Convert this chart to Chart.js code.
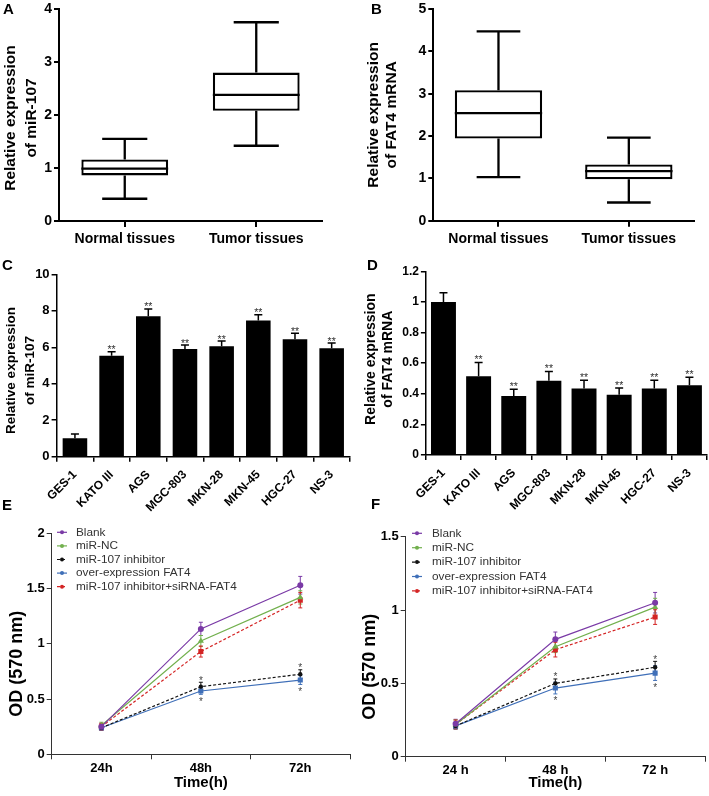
<!DOCTYPE html>
<html><head><meta charset="utf-8">
<script src="https://cdn.jsdelivr.net/npm/chart.js@4.4.1/dist/chart.umd.min.js"></script>
<style>
html,body{margin:0;padding:0;background:#fff;}
#wrap{position:relative;width:709px;height:796px;overflow:hidden;background:#fff;}
canvas{position:absolute;}
.lab{position:absolute;font:bold 15px Arial,"Liberation Sans",sans-serif;color:#000;line-height:1;}
</style></head><body>
<div id="wrap">
<canvas id="cA" width="354" height="262" style="left:0;top:0"></canvas>
<canvas id="cB" width="355" height="262" style="left:354px;top:0"></canvas>
<canvas id="cC" width="354" height="250" style="left:0;top:262px"></canvas>
<canvas id="cD" width="355" height="250" style="left:354px;top:262px"></canvas>
<canvas id="cE" width="354" height="284" style="left:0;top:512px"></canvas>
<canvas id="cF" width="355" height="284" style="left:354px;top:512px"></canvas>
<div class="lab" style="left:3px;top:1px">A</div>
<div class="lab" style="left:371px;top:1px">B</div>
<div class="lab" style="left:2px;top:257px">C</div>
<div class="lab" style="left:367px;top:257px">D</div>
<div class="lab" style="left:2px;top:497px">E</div>
<div class="lab" style="left:371px;top:496px">F</div>
</div>
<script>
// ---------- data ----------
const boxCategories = ['Normal tissues', 'Tumor tissues'];
const miR107Min = [0.42, 1.42];
const miR107Q1 = [0.86, 2.08];
const miR107Median = [0.99, 2.38];
const miR107Q3 = [1.16, 2.80];
const miR107Max = [1.55, 3.75];
const fat4Min = [1.03, 0.43];
const fat4Q1 = [1.94, 0.98];
const fat4Median = [2.54, 1.17];
const fat4Q3 = [3.08, 1.33];
const fat4Max = [4.47, 1.96];

const cellLines = ['GES-1', 'KATO III', 'AGS', 'MGC-803', 'MKN-28', 'MKN-45', 'HGC-27', 'NS-3'];
const cellMiR107 = [1.01, 5.53, 7.70, 5.90, 6.05, 7.47, 6.44, 5.94];
const cellMiR107Err = [0.23, 0.22, 0.40, 0.22, 0.29, 0.31, 0.33, 0.29];
const cellMiR107Sig = ['', '**', '**', '**', '**', '**', '**', '**'];
const cellFat4 = [1.00, 0.515, 0.385, 0.485, 0.435, 0.393, 0.435, 0.455];
const cellFat4Err = [0.06, 0.09, 0.044, 0.061, 0.054, 0.044, 0.054, 0.053];
const cellFat4Sig = ['', '**', '**', '**', '**', '**', '**', '**'];

const timeLabelsE = ['24h', '48h', '72h'];
const timeLabelsF = ['24 h', '48 h', '72 h'];
const groupNames = ['Blank', 'miR-NC', 'miR-107 inhibitor', 'over-expression FAT4', 'miR-107 inhibitor+siRNA-FAT4'];
const odE_blank = [0.25, 1.135, 1.53];
const odE_nc = [0.26, 1.025, 1.42];
const odE_inhib = [0.24, 0.612, 0.725];
const odE_fat4 = [0.24, 0.573, 0.672];
const odE_inhibSi = [0.25, 0.93, 1.395];
const errE_blank = [0.03, 0.06, 0.08];
const errE_nc = [0.03, 0.05, 0.06];
const errE_inhib = [0.02, 0.04, 0.04];
const errE_fat4 = [0.02, 0.03, 0.04];
const errE_inhibSi = [0.03, 0.05, 0.07];
const starsE = ['', '*', '*'];

const odF_blank = [0.225, 0.80, 1.05];
const odF_nc = [0.22, 0.75, 1.02];
const odF_inhib = [0.21, 0.50, 0.61];
const odF_fat4 = [0.21, 0.468, 0.57];
const odF_inhibSi = [0.22, 0.73, 0.952];
const errF_blank = [0.03, 0.05, 0.07];
const errF_nc = [0.03, 0.04, 0.06];
const errF_inhib = [0.02, 0.03, 0.04];
const errF_fat4 = [0.02, 0.04, 0.05];
const errF_inhibSi = [0.03, 0.05, 0.05];
const starsF = ['', '*', '*'];

const ticksA = ['0', '1', '2', '3', '4'];
const ticksB = ['0', '1', '2', '3', '4', '5'];
const ticksC = ['0', '2', '4', '6', '8', '10'];
const ticksD = ['0', '0.2', '0.4', '0.6', '0.8', '1', '1.2'];
const ticksE = ['0', '0.5', '1', '1.5', '2'];
const ticksF = ['0', '0.5', '1', '1.5'];

const titleA = ['Relative expression', 'of miR-107'];
const titleB = ['Relative expression', 'of FAT4 mRNA'];
const titleC = ['Relative expression', 'of miR-107'];
const titleD = ['Relative expression', 'of FAT4 mRNA'];
const titleE = ['OD (570 nm)'];
const titleF = ['OD (570 nm)'];
const timeTitle = 'Time(h)';

// ---------- styles ----------
const FONT = 'Arial, "Liberation Sans", Helvetica, sans-serif';
Chart.defaults.font.family = FONT;
Chart.defaults.color = '#000';
const lineColors = ['#7a3aa6', '#72b04e', '#111111', '#3f6fb8', '#d42424'];
const lineStyles = ['circle', 'triangle', 'circle', 'rect', 'rect'];
const lineRadii = [3, 3.6, 2.2, 3.6, 3.6];
const lineDashes = [[], [], [3, 2], [], [3, 2]];

// ---------- plugins ----------
const sideTitle = {
  id: 'sideTitle',
  afterDraw(chart, args, o) {
    if (!o.lines) return;
    const ctx = chart.ctx, ca = chart.chartArea;
    ctx.save();
    ctx.font = 'bold ' + o.size + 'px ' + FONT;
    ctx.fillStyle = '#000'; ctx.textAlign = 'center'; ctx.textBaseline = 'middle';
    const cy = (ca.top + ca.bottom) / 2 + (o.dy || 0);
    o.lines.forEach((t, i) => {
      ctx.save(); ctx.translate(o.x + i * o.lh, cy); ctx.rotate(-Math.PI / 2);
      ctx.fillText(t, 0, 0); ctx.restore();
    });
    ctx.restore();
  }
};

const boxWhisker = {
  id: 'boxWhisker',
  afterDatasetsDraw(chart, args, o) {
    if (!o.min) return;
    const ctx = chart.ctx, y = chart.scales.y;
    const meta = chart.getDatasetMeta(0);
    ctx.save();
    ctx.strokeStyle = '#000'; ctx.lineWidth = o.lineWidth; ctx.lineCap = 'butt';
    meta.data.forEach((bar, i) => {
      const x = bar.x, w = bar.width, cw = w * o.cap;
      const pMin = y.getPixelForValue(o.min[i]);
      const pMax = y.getPixelForValue(o.max[i]);
      const pMed = y.getPixelForValue(o.median[i]);
      const pQ1 = y.getPixelForValue(o.q1[i]);
      const pQ3 = y.getPixelForValue(o.q3[i]);
      ctx.beginPath();
      ctx.moveTo(x - w / 2, pMed); ctx.lineTo(x + w / 2, pMed);
      ctx.moveTo(x, pQ3); ctx.lineTo(x, pMax);
      ctx.moveTo(x - cw / 2, pMax); ctx.lineTo(x + cw / 2, pMax);
      ctx.moveTo(x, pQ1); ctx.lineTo(x, pMin);
      ctx.moveTo(x - cw / 2, pMin); ctx.lineTo(x + cw / 2, pMin);
      ctx.stroke();
    });
    ctx.restore();
  }
};

const barErr = {
  id: 'barErr',
  afterDatasetsDraw(chart, args, o) {
    if (!o.err) return;
    const ctx = chart.ctx, y = chart.scales.y;
    const meta = chart.getDatasetMeta(0);
    const data = chart.data.datasets[0].data;
    ctx.save();
    meta.data.forEach((bar, i) => {
      const top = y.getPixelForValue(data[i] + o.err[i]);
      ctx.strokeStyle = '#000'; ctx.lineWidth = o.lineWidth;
      ctx.beginPath();
      ctx.moveTo(bar.x, bar.y); ctx.lineTo(bar.x, top);
      ctx.moveTo(bar.x - o.cap / 2, top); ctx.lineTo(bar.x + o.cap / 2, top);
      ctx.stroke();
      if (o.sig[i]) {
        ctx.fillStyle = '#333'; ctx.font = o.sigSize + 'px ' + FONT;
        ctx.textAlign = 'center'; ctx.textBaseline = 'alphabetic';
        ctx.fillText(o.sig[i], bar.x, top - o.sigGap + 0.575 * o.sigSize);
      }
    });
    ctx.restore();
  }
};

function drawMarker(ctx, style, r, x, y) {
  ctx.beginPath();
  if (style === 'rect') {
    const s = r * Math.SQRT1_2;
    ctx.rect(x - s, y - s, 2 * s, 2 * s);
  } else if (style === 'triangle') {
    ctx.moveTo(x, y - r);
    ctx.lineTo(x + r * 0.866, y + r * 0.5);
    ctx.lineTo(x - r * 0.866, y + r * 0.5);
    ctx.closePath();
  } else {
    ctx.arc(x, y, r, 0, Math.PI * 2);
  }
  ctx.fill();
}

const lineErr = {
  id: 'lineErr',
  beforeDatasetsDraw(chart, args, o) {
    if (!o.errors) return;
    const ctx = chart.ctx, y = chart.scales.y;
    ctx.save();
    chart.data.datasets.forEach((ds, di) => {
      const meta = chart.getDatasetMeta(di);
      ctx.strokeStyle = ds.borderColor; ctx.lineWidth = 1;
      meta.data.forEach((pt, i) => {
        const e = o.errors[di][i];
        const t = y.getPixelForValue(ds.data[i] + e), b = y.getPixelForValue(ds.data[i] - e);
        ctx.beginPath();
        ctx.moveTo(pt.x, t); ctx.lineTo(pt.x, b);
        ctx.moveTo(pt.x - 2, t); ctx.lineTo(pt.x + 2, t);
        ctx.moveTo(pt.x - 2, b); ctx.lineTo(pt.x + 2, b);
        ctx.stroke();
      });
    });
    ctx.restore();
  },
  afterDatasetsDraw(chart, args, o) {
    if (!o.stars) return;
    const ctx = chart.ctx, y = chart.scales.y;
    ctx.save();
    ctx.fillStyle = '#444'; ctx.font = o.starSize + 'px ' + FONT;
    ctx.textAlign = 'center'; ctx.textBaseline = 'alphabetic';
    const up = chart.data.datasets[o.aboveIdx], dn = chart.data.datasets[o.belowIdx];
    const mUp = chart.getDatasetMeta(o.aboveIdx), mDn = chart.getDatasetMeta(o.belowIdx);
    o.stars.forEach((s, i) => {
      if (!s) return;
      const tUp = y.getPixelForValue(up.data[i] + o.errors[o.aboveIdx][i]) - o.gap;
      const tDn = y.getPixelForValue(dn.data[i] - o.errors[o.belowIdx][i]) + o.gap;
      ctx.fillText(s, mUp.data[i].x, tUp + 0.575 * o.starSize);
      ctx.fillText(s, mDn.data[i].x, tDn + 0.575 * o.starSize);
    });
    ctx.restore();
  }
};

const insideLegend = {
  id: 'insideLegend',
  afterDraw(chart, args, o) {
    if (!o.size) return;
    const ctx = chart.ctx, ca = chart.chartArea;
    ctx.save();
    ctx.font = o.size + 'px ' + FONT;
    ctx.textBaseline = 'middle'; ctx.textAlign = 'left';
    chart.data.datasets.forEach((ds, i) => {
      const yy = ca.top + o.top + i * o.gap;
      const x0 = ca.left + o.left;
      ctx.strokeStyle = ds.borderColor; ctx.lineWidth = 1.2;
      ctx.setLineDash(ds.borderDash || []);
      ctx.beginPath(); ctx.moveTo(x0, yy); ctx.lineTo(x0 + o.len, yy); ctx.stroke();
      ctx.setLineDash([]);
      ctx.fillStyle = ds.borderColor;
      drawMarker(ctx, 'circle', 2, x0 + o.len / 2, yy);
      ctx.fillStyle = o.color;
      ctx.fillText(ds.label, x0 + o.text, yy);
    });
    ctx.restore();
  }
};

// ---------- helpers ----------
function yAxis(max, step, labels, size, width, color, lw) {
  return {
    min: 0, max: max,
    ticks: { stepSize: step, autoSkip: false, font: { size: size, weight: 'bold', lineHeight: 1 }, color: '#000', padding: 2,
      callback: (v, i) => (labels[i] !== undefined ? labels[i] : v) },
    grid: { drawOnChartArea: false, drawTicks: true, tickLength: 5, color: color, lineWidth: lw },
    border: { display: true, color: color, width: lw },
    afterFit: s => { s.width = width; }
  };
}
const baseOpts = { responsive: false, animation: false, events: [] };
const noLegend = { legend: { display: false }, tooltip: { enabled: false } };

// ---------- A ----------
new Chart(document.getElementById('cA'), {
  type: 'bar',
  data: { labels: boxCategories, datasets: [{
    data: miR107Q1.map((q, i) => [q, miR107Q3[i]]),
    backgroundColor: '#fff', borderColor: '#000', borderWidth: 2.3, borderSkipped: false,
    barPercentage: 0.66, categoryPercentage: 1 }] },
  options: Object.assign({}, baseOpts, {
    layout: { padding: { top: 7, right: 32, left: 0, bottom: 0 } },
    scales: {
      x: { grid: { offset: false, drawOnChartArea: false, tickLength: 6, color: '#000', lineWidth: 2 },
        border: { color: '#000', width: 2 },
        ticks: { font: { size: 14, weight: 'bold' }, color: '#000', padding: 4 },
        afterFit: s => { s.height = 41; } },
      y: yAxis(4, 1, ticksA, 14, 59, '#000', 2)
    },
    plugins: Object.assign({}, noLegend, {
      boxWhisker: { min: miR107Min, q1: miR107Q1, median: miR107Median, q3: miR107Q3, max: miR107Max, cap: 0.52, lineWidth: 2.3 },
      sideTitle: { lines: titleA, size: 15.5, x: 10.5, lh: 21.5, dy: 3 }
    })
  }),
  plugins: [boxWhisker, sideTitle]
});

// ---------- B ----------
new Chart(document.getElementById('cB'), {
  type: 'bar',
  data: { labels: boxCategories, datasets: [{
    data: fat4Q1.map((q, i) => [q, fat4Q3[i]]),
    backgroundColor: '#fff', borderColor: '#000', borderWidth: 2.3, borderSkipped: false,
    barPercentage: 0.67, categoryPercentage: 1 }] },
  options: Object.assign({}, baseOpts, {
    layout: { padding: { top: 6.7, right: 15, left: 0, bottom: 0 } },
    scales: {
      x: { grid: { offset: false, drawOnChartArea: false, tickLength: 6, color: '#000', lineWidth: 2 },
        border: { color: '#000', width: 2 },
        ticks: { font: { size: 14, weight: 'bold' }, color: '#000', padding: 4 },
        afterFit: s => { s.height = 41.3; } },
      y: yAxis(5, 1, ticksB, 14, 79.3, '#000', 2)
    },
    plugins: Object.assign({}, noLegend, {
      boxWhisker: { min: fat4Min, q1: fat4Q1, median: fat4Median, q3: fat4Q3, max: fat4Max, cap: 0.5, lineWidth: 2.3 },
      sideTitle: { lines: titleB, size: 15.5, x: 19.5, lh: 18.5, dy: 0 }
    })
  }),
  plugins: [boxWhisker, sideTitle]
});

// ---------- C ----------
function barX(height) {
  return {
    grid: { offset: true, drawOnChartArea: false, tickLength: 5, color: '#000', lineWidth: 1.5 },
    border: { color: '#000', width: 1.5 },
    ticks: { font: { size: 12, weight: 'bold' }, color: '#000', padding: 6, minRotation: 45, maxRotation: 45, autoSkip: false },
    afterFit: s => { s.height = height; }
  };
}
new Chart(document.getElementById('cC'), {
  type: 'bar',
  data: { labels: cellLines, datasets: [{ data: cellMiR107, backgroundColor: '#000', borderWidth: 0,
    barPercentage: 0.67, categoryPercentage: 1 }] },
  options: Object.assign({}, baseOpts, {
    layout: { padding: { top: 12.3, right: 4, left: 0, bottom: 0 } },
    scales: { x: barX(55.3), y: yAxis(10, 2, ticksC, 13, 56.6, '#000', 1.5) },
    plugins: Object.assign({}, noLegend, {
      barErr: { err: cellMiR107Err, sig: cellMiR107Sig, cap: 8, lineWidth: 1.5, sigSize: 10.5, sigGap: 4.5 },
      sideTitle: { lines: titleC, size: 13.5, x: 11, lh: 19.5, dy: 5 }
    })
  }),
  plugins: [barErr, sideTitle]
});

// ---------- D ----------
new Chart(document.getElementById('cD'), {
  type: 'bar',
  data: { labels: cellLines, datasets: [{ data: cellFat4, backgroundColor: '#000', borderWidth: 0,
    barPercentage: 0.71, categoryPercentage: 1 }] },
  options: Object.assign({}, baseOpts, {
    layout: { padding: { top: 9.3, right: 2, left: 0, bottom: 0 } },
    scales: { x: barX(57), y: yAxis(1.2, 0.2, ticksD, 12, 71.9, '#000', 1.5) },
    plugins: Object.assign({}, noLegend, {
      barErr: { err: cellFat4Err, sig: cellFat4Sig, cap: 8, lineWidth: 1.5, sigSize: 10.5, sigGap: 5 },
      sideTitle: { lines: titleD, size: 14, x: 17.5, lh: 16.5, dy: -4 }
    })
  }),
  plugins: [barErr, sideTitle]
});

// ---------- E / F ----------
function lineSets(series) {
  return series.map((vals, i) => ({
    label: groupNames[i], data: vals, borderColor: lineColors[i], backgroundColor: lineColors[i],
    pointBackgroundColor: lineColors[i], pointBorderColor: lineColors[i], pointStyle: lineStyles[i],
    pointRadius: lineRadii[i], pointBorderWidth: 0, borderWidth: 1.2, borderDash: lineDashes[i],
    tension: 0, fill: false
  }));
}
function lineX(height) {
  return {
    type: 'category', offset: true,
    grid: { offset: true, drawOnChartArea: false, tickLength: 5, color: '#333', lineWidth: 1 },
    border: { color: '#333', width: 1 },
    ticks: { font: { size: 13, weight: 'bold' }, color: '#000', padding: 1 },
    title: { display: true, text: timeTitle, font: { size: 15, weight: 'bold' }, color: '#000', padding: { top: 0, bottom: 4 } },
    afterFit: s => { s.height = height; }
  };
}
new Chart(document.getElementById('cE'), {
  type: 'line',
  data: { labels: timeLabelsE, datasets: lineSets([odE_blank, odE_nc, odE_inhib, odE_fat4, odE_inhibSi]) },
  options: Object.assign({}, baseOpts, {
    layout: { padding: { top: 21.3, right: 1, left: 0, bottom: 0 } },
    scales: { x: lineX(41.7), y: yAxis(2, 0.5, ticksE, 13, 51.7, '#333', 1) },
    plugins: Object.assign({}, noLegend, {
      lineErr: { errors: [errE_blank, errE_nc, errE_inhib, errE_fat4, errE_inhibSi], stars: starsE, aboveIdx: 2, belowIdx: 3, starSize: 10, gap: 4.5 },
      insideLegend: { size: 11.8, top: -1, gap: 13.6, left: 5.3, len: 10, text: 19, color: '#333' },
      sideTitle: { lines: titleE, size: 18, x: 17.5, lh: 20, dy: 20 }
    })
  }),
  plugins: [lineErr, insideLegend, sideTitle]
});
new Chart(document.getElementById('cF'), {
  type: 'line',
  data: { labels: timeLabelsF, datasets: lineSets([odF_blank, odF_nc, odF_inhib, odF_fat4, odF_inhibSi]) },
  options: Object.assign({}, baseOpts, {
    layout: { padding: { top: 24.7, right: 2, left: 0, bottom: 0 } },
    scales: { x: lineX(39.3), y: yAxis(1.5, 0.5, ticksF, 13, 51.7, '#333', 1) },
    plugins: Object.assign({}, noLegend, {
      lineErr: { errors: [errF_blank, errF_nc, errF_inhib, errF_fat4, errF_inhibSi], stars: starsF, aboveIdx: 2, belowIdx: 3, starSize: 10, gap: 4.5 },
      insideLegend: { size: 11.8, top: -3.4, gap: 14.4, left: 6.3, len: 10, text: 20, color: '#333' },
      sideTitle: { lines: titleF, size: 18, x: 16.5, lh: 20, dy: 20 }
    })
  }),
  plugins: [lineErr, insideLegend, sideTitle]
});
</script>
</body></html>
